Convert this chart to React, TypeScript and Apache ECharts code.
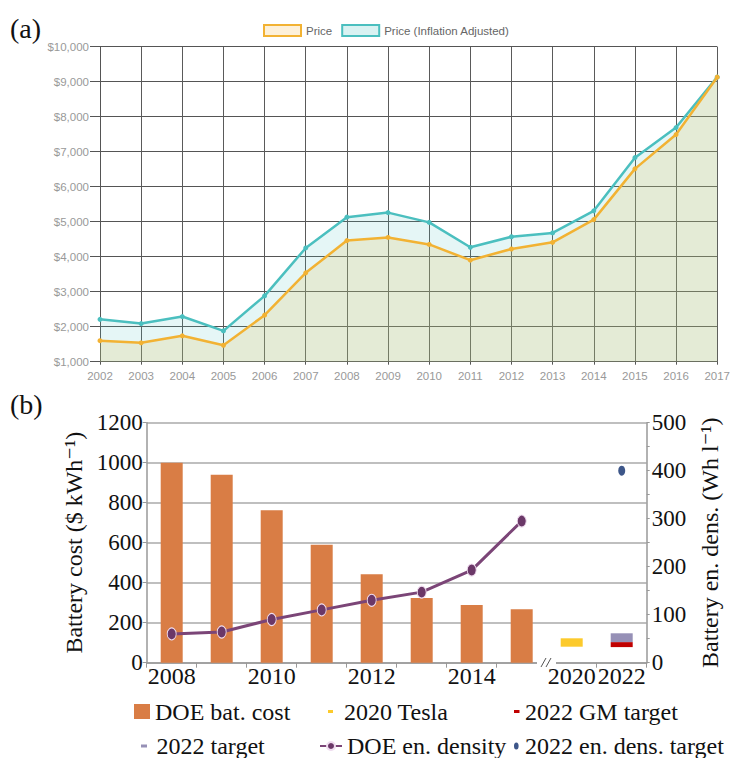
import React, { useEffect, useRef } from 'react';
import * as echarts from 'echarts';

// ---------- (a) data ----------
const yearsA = ['2002', '2003', '2004', '2005', '2006', '2007', '2008', '2009', '2010', '2011', '2012', '2013', '2014', '2015', '2016', '2017'];
const price = [1600, 1540, 1740, 1470, 2330, 3540, 4460, 4550, 4350, 3900, 4220, 4410, 5060, 6510, 7490, 9130];
const priceAdjusted = [2210, 2090, 2290, 1880, 2880, 4250, 5130, 5260, 4980, 4270, 4570, 4680, 5310, 6830, 7690, 9130];

// ---------- (b) data ----------
const yearsB = ['2008', '2009', '2010', '2011', '2012', '2013', '2014', '2015', '2020', '2022'];
const shownYearLabels = ['2008', '2010', '2012', '2014', '2020', '2022'];
const doeBatCost: (number | null)[] = [1000, 940, 762, 590, 442, 323, 288, 267, null, null];
const doeEnDensity: (number | null)[] = [60, 64, 90, 110, 130, 147, 193, 295, null, null];
const tesla2020Range = [80, 122];
const gm2022Range = [78, 103];
const target2022Range = [103, 147];
const enDensTarget2022 = 400;

const serif = "'Liberation Serif', 'DejaVu Serif', serif";
const sans = "'Liberation Sans', Arial, Helvetica, sans-serif";

const boxPath = (inner: string) => `path://M0 0L0 0M16 16L16 16${inner}`;
const dashIcon = (x: number, w: number, y: number, h: number) => boxPath(`M${x} ${y}h${w}v${h}h${-w}z`);
const ellipseIcon = (cx: number, cy: number, rx: number, ry: number) =>
  boxPath(`M${cx - rx} ${cy}a${rx} ${ry} 0 1 0 ${2 * rx} 0a${rx} ${ry} 0 1 0 ${-2 * rx} 0z`);

const idx2020 = yearsB.indexOf('2020');
const idx2022 = yearsB.indexOf('2022');
const blank = () => yearsB.map(() => '-' as any);
const baseSeries = blank();
baseSeries[idx2020] = tesla2020Range[0];
baseSeries[idx2022] = gm2022Range[0];
const teslaSeries = blank();
teslaSeries[idx2020] = tesla2020Range[1] - tesla2020Range[0];
const gmSeries = blank();
gmSeries[idx2022] = gm2022Range[1] - gm2022Range[0];
const targetSeries = blank();
targetSeries[idx2022] = target2022Range[1] - target2022Range[0];

const legendText = { fontFamily: serif, fontSize: 24, color: '#111' };

export default function App() {
  const ref = useRef<HTMLDivElement>(null);
  useEffect(() => {
    if (!ref.current) return;
    const chart = echarts.init(ref.current, undefined, { renderer: 'svg' });
    const option: any = {
      animation: false,
      backgroundColor: '#fff',
      grid: [
        { left: 100, top: 46.7, width: 621, height: 315 },
        { left: 146.7, top: 422.7, width: 500, height: 240 },
      ],
      legend: [
        {
          left: 263, top: 24, padding: 0, itemWidth: 37, itemHeight: 11, itemGap: 9, selectedMode: false,
          textStyle: { fontFamily: sans, fontSize: 11.5, color: '#666' },
          data: [
            { name: 'Price', icon: 'rect', itemStyle: { color: '#fdf0d8', borderColor: '#f2b233', borderWidth: 2 } },
            { name: 'Price (Inflation Adjusted)', icon: 'rect', itemStyle: { color: '#d9f2f2', borderColor: '#4bbfbf', borderWidth: 2 } },
          ],
        },
        { left: 134, top: 699.5, padding: 0, itemWidth: 16, itemHeight: 15, selectedMode: false, textStyle: legendText,
          data: [{ name: 'DOE bat. cost', icon: 'rect' }] },
        { left: 323, top: 699.5, padding: 0, itemWidth: 16, itemHeight: 16, selectedMode: false, textStyle: legendText,
          data: [{ name: '2020 Tesla', icon: dashIcon(5, 5, 6.5, 3) }] },
        { left: 504, top: 699.5, padding: 0, itemWidth: 16, itemHeight: 16, selectedMode: false, textStyle: legendText,
          data: [{ name: '2022 GM target', icon: dashIcon(10, 5.5, 6.5, 3) }] },
        { left: 135.5, top: 734, padding: 0, itemWidth: 16, itemHeight: 16, selectedMode: false, textStyle: legendText,
          data: [{ name: '2022 target', icon: dashIcon(5.5, 6, 6.5, 3) }] },
        { left: 319, top: 734, padding: 0, itemWidth: 22, itemHeight: 10, selectedMode: false, textStyle: legendText,
          data: [{ name: 'DOE en. density' }] },
        { left: 504, top: 734, padding: 0, itemWidth: 16, itemHeight: 16, selectedMode: false, textStyle: legendText,
          data: [{ name: '2022 en. dens. target', icon: ellipseIcon(12.3, 8, 2.3, 3.5) }] },
      ],
      xAxis: [
        {
          gridIndex: 0, type: 'category', data: yearsA, boundaryGap: false,
          axisLine: { lineStyle: { color: '#555', width: 1 } },
          axisTick: { show: true, length: 3, lineStyle: { color: '#555' } },
          axisLabel: { interval: 0, margin: 8, fontFamily: sans, fontSize: 11.5, color: '#999' },
          splitLine: { show: true, lineStyle: { color: '#5a5a5a', width: 1 } },
        },
        {
          gridIndex: 1, type: 'category', data: yearsB, boundaryGap: true,
          axisLine: { lineStyle: { color: '#999', width: 1.5 } },
          axisTick: { show: true, interval: 0, length: 5, lineStyle: { color: '#999', width: 1 } },
          axisLabel: {
            interval: (_i: number, v: string) => shownYearLabels.includes(v),
            margin: 1, fontFamily: serif, fontSize: 24, color: '#111',
          },
          splitLine: { show: false },
        },
      ],
      yAxis: [
        {
          gridIndex: 0, type: 'value', min: 1000, max: 10000, interval: 1000,
          axisLine: { show: true, lineStyle: { color: '#555' } },
          axisTick: { show: true, length: 10, lineStyle: { color: '#555' } },
          axisLabel: {
            margin: 11, fontFamily: sans, fontSize: 11.5, color: '#999',
            formatter: (v: number) => '$' + v.toLocaleString('en-US'),
          },
          splitLine: { show: true, lineStyle: { color: '#555', width: 1 } },
        },
        {
          gridIndex: 1, type: 'value', position: 'left', min: 0, max: 1200, interval: 200,
          name: 'Battery cost ($ kWh⁻¹)', nameLocation: 'middle', nameRotate: 90, nameGap: 52,
          nameTextStyle: { fontFamily: serif, fontSize: 24, color: '#111' },
          axisLine: { show: true, lineStyle: { color: '#999', width: 1.5 } },
          axisTick: { show: true, length: 4, lineStyle: { color: '#999' } },
          axisLabel: { margin: 4, fontFamily: serif, fontSize: 23, color: '#111', formatter: (v: number) => String(v) },
          splitLine: { show: true, lineStyle: { color: '#aaa', width: 1.5 } },
        },
        {
          gridIndex: 1, type: 'value', position: 'right', min: 0, max: 500, interval: 100,
          name: 'Battery en. dens. (Wh l⁻¹)', nameLocation: 'middle', nameRotate: 90, nameGap: 51,
          nameTextStyle: { fontFamily: serif, fontSize: 24, color: '#111' },
          axisLine: { show: true, lineStyle: { color: '#999', width: 1.5 } },
          axisTick: { show: true, length: 3, lineStyle: { color: '#999' } },
          minorTick: { show: true, splitNumber: 2, length: 3, lineStyle: { color: '#999' } },
          axisLabel: { margin: 5, fontFamily: serif, fontSize: 23, color: '#111', formatter: (v: number) => String(v) },
          splitLine: { show: false },
        },
      ],
      series: [
        {
          name: 'Price (Inflation Adjusted)', type: 'line', xAxisIndex: 0, yAxisIndex: 0, data: priceAdjusted,
          color: '#4bbfbf', symbol: 'circle', symbolSize: 5,
          lineStyle: { color: '#4bbfbf', width: 2.5 },
          itemStyle: { color: '#4bbfbf' },
          areaStyle: { color: 'rgba(72,190,190,0.2)', origin: 'start' },
          z: 3,
        },
        {
          name: 'Price', type: 'line', xAxisIndex: 0, yAxisIndex: 0, data: price,
          color: '#f2b233', symbol: 'circle', symbolSize: 5,
          lineStyle: { color: '#f2b233', width: 2.5 },
          itemStyle: { color: '#f2b233' },
          areaStyle: { color: 'rgba(228,192,95,0.3)', origin: 'start' },
          z: 4,
        },
        {
          name: 'DOE bat. cost', type: 'bar', xAxisIndex: 1, yAxisIndex: 1,
          data: doeBatCost.map((v) => (v == null ? '-' : v)),
          barWidth: 22, barGap: '-100%', itemStyle: { color: '#d97d45' }, color: '#d97d45',
        },
        {
          name: 'base', type: 'bar', xAxisIndex: 1, yAxisIndex: 1, stack: 'range', data: baseSeries,
          barWidth: 22, barGap: '-100%', itemStyle: { color: 'rgba(0,0,0,0)' }, silent: true,
        },
        {
          name: '2020 Tesla', type: 'bar', xAxisIndex: 1, yAxisIndex: 1, stack: 'range', data: teslaSeries,
          barWidth: 22, barGap: '-100%', itemStyle: { color: '#fcca2c' }, color: '#fcca2c',
        },
        {
          name: '2022 GM target', type: 'bar', xAxisIndex: 1, yAxisIndex: 1, stack: 'range', data: gmSeries,
          barWidth: 22, barGap: '-100%', itemStyle: { color: '#c00000' }, color: '#c00000',
        },
        {
          name: '2022 target', type: 'bar', xAxisIndex: 1, yAxisIndex: 1, stack: 'range', data: targetSeries,
          barWidth: 22, barGap: '-100%', itemStyle: { color: '#9690b6' }, color: '#9690b6',
        },
        {
          name: 'DOE en. density', type: 'line', xAxisIndex: 1, yAxisIndex: 2,
          data: doeEnDensity.map((v) => (v == null ? '-' : v)),
          color: '#6b3868', symbol: 'circle', symbolSize: [9, 12],
          lineStyle: { color: '#7b4577', width: 3 },
          itemStyle: { color: '#6b3868', borderColor: '#efdcef', borderWidth: 1 },
          z: 5,
        },
        {
          name: '2022 en. dens. target', type: 'scatter', xAxisIndex: 1, yAxisIndex: 2,
          data: [['2022', enDensTarget2022]],
          symbol: 'circle', symbolSize: [7, 10], itemStyle: { color: '#0c2c6c' }, color: '#0c2c6c',
          z: 5,
        },
      ],
      graphic: [
        { type: 'text', left: 10, top: 14, style: { text: '(a)', fontFamily: serif, fontSize: 28, fill: '#111' } },
        { type: 'text', left: 10, top: 390, style: { text: '(b)', fontFamily: serif, fontSize: 28, fill: '#111' } },
        { type: 'rect', shape: { x: 537, y: 659, width: 19, height: 10 }, style: { fill: '#fff' }, z: 100 },
        { type: 'line', shape: { x1: 541, y1: 667, x2: 546, y2: 658 }, style: { stroke: '#555', lineWidth: 1 }, z: 101 },
        { type: 'line', shape: { x1: 546, y1: 667, x2: 551, y2: 658 }, style: { stroke: '#555', lineWidth: 1 }, z: 101 },
      ],
    };
    chart.setOption(option);
    return () => chart.dispose();
  }, []);
  return <div ref={ref} style={{ position: 'absolute', left: 0, top: 0, width: 733, height: 758 }} />;
}
